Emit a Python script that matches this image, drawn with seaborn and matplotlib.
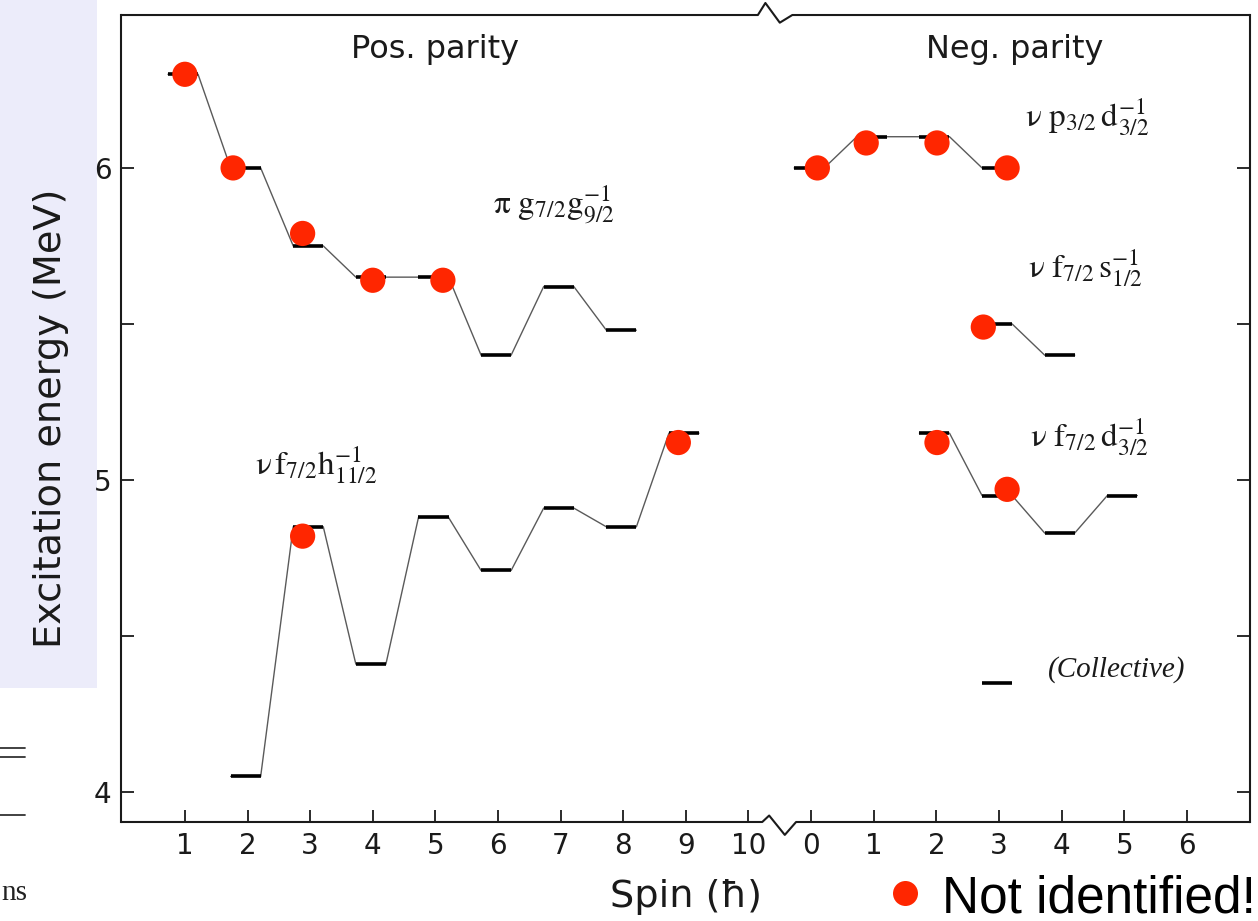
import matplotlib
matplotlib.use("Agg")
import matplotlib.pyplot as plt
import seaborn as sns
import pandas as pd
from matplotlib.patches import Rectangle
from matplotlib.lines import Line2D

# positive parity bands: spin (hbar) and excitation energy (MeV)
pg_spin = [1, 2, 3, 4, 5, 6, 7, 8]
pg_energy = [6.30, 6.00, 5.75, 5.65, 5.65, 5.40, 5.62, 5.48]

ph_spin = [2, 3, 4, 5, 6, 7, 8, 9]
ph_energy = [4.05, 4.85, 4.41, 4.88, 4.71, 4.91, 4.85, 5.15]

# negative parity bands
npd_spin = [0, 1, 2, 3]
npd_energy = [6.00, 6.10, 6.10, 6.00]

nfs_spin = [3, 4]
nfs_energy = [5.50, 5.40]

nfd_spin = [2, 3, 4, 5]
nfd_energy = [5.15, 4.95, 4.83, 4.95]

collective_spin = [3]
collective_energy = [4.35]

# red dots: "not identified" states
dot_parity = ["pos"] * 7 + ["neg"] * 7
dot_spin = [1.0, 1.77, 2.88, 4.0, 5.12, 2.88, 8.88,
            0.10, 0.88, 2.01, 3.13, 2.75, 2.01, 3.13]
dot_energy = [6.30, 6.00, 5.79, 5.64, 5.64, 4.82, 5.12,
              6.00, 6.08, 6.08, 6.00, 5.49, 5.12, 4.97]

pos_ticks = list(range(1, 11))
neg_ticks = list(range(0, 7))
y_major = [4, 5, 6]
y_minor = [4.5, 5.5]

NEG_OFFSET = 11          # negative parity axis starts one step after 10
BAR_L, BAR_R = 0.27, 0.21
RED = "#ff2600"
INK = "#1a1a1a"

sns.set_style("white")
plt.rcParams["font.family"] = ["DejaVu Sans"]
plt.rcParams["mathtext.fontset"] = "stix"


def draw_band(ax, spins, energies, offset=0, connect=True):
    x = [s + offset for s in spins]
    if connect:
        path = []
        for xi, e in zip(x, energies):
            path.append((xi - BAR_L, e))
            path.append((xi + BAR_R, e))
        df = pd.DataFrame(path, columns=["x", "E"])
        sns.lineplot(data=df, x="x", y="E", sort=False, estimator=None,
                     color="#5a5a5a", lw=1.0, ax=ax)
    ax.hlines(energies, [xi - BAR_L for xi in x], [xi + BAR_R for xi in x],
              color="black", lw=2.6, zorder=3)


fig = plt.figure(figsize=(12.58, 9.21), dpi=100)

# slide leftovers on the left edge
fig.patches.append(Rectangle((0, 1 - 688 / 921), 97 / 1258, 688 / 921,
                             transform=fig.transFigure, facecolor="#ececfa",
                             edgecolor="none", zorder=-5))
for yy in [748, 757, 815]:
    fig.lines.append(Line2D([0, 25 / 1258], [1 - yy / 921] * 2,
                            transform=fig.transFigure, color="#333333", lw=1.3))
fig.text(1 / 1258, 1 - 900 / 921, "ns", ha="left", va="baseline",
         family="Liberation Serif", fontsize=21, color="#222222")

ax = fig.add_axes([0.0962, 0.1075, 0.8975, 0.8762])
ax.set_facecolor("none")
ax.set_zorder(2)

draw_band(ax, pg_spin, pg_energy)
draw_band(ax, ph_spin, ph_energy)
draw_band(ax, npd_spin, npd_energy, NEG_OFFSET)
draw_band(ax, nfs_spin, nfs_energy, NEG_OFFSET)
draw_band(ax, nfd_spin, nfd_energy, NEG_OFFSET)
draw_band(ax, collective_spin, collective_energy, NEG_OFFSET, connect=False)

dots = pd.DataFrame({"parity": dot_parity, "spin": dot_spin, "E": dot_energy})
dots["x"] = dots["spin"] + (dots["parity"] == "neg") * NEG_OFFSET
sns.scatterplot(data=dots, x="x", y="E", color=RED, s=330, edgecolor="none",
                zorder=5, ax=ax, legend=False)

ax.set_xlim(-0.02, 18.01)
ax.set_ylim(3.904, 6.490)

xt = pos_ticks + [t + NEG_OFFSET for t in neg_ticks]
ax.set_xticks(xt)
ax.set_xticklabels([str(t) for t in pos_ticks] + [str(t) for t in neg_ticks])
ax.set_yticks(y_major)
ax.set_yticks(y_minor, minor=True)
ax.set_yticklabels([str(t) for t in y_major])

ax.tick_params(axis="x", direction="in", length=8.5, width=1.3, pad=7,
               labelsize=20, colors=INK, bottom=True, top=False)
ax.tick_params(axis="y", which="both", direction="in", length=9.5, width=1.3,
               pad=7, labelsize=20, colors=INK, left=True, right=True,
               labelright=False)

for side in ["left", "right"]:
    ax.spines[side].set_linewidth(1.5)
    ax.spines[side].set_color(INK)
for side in ["top", "bottom"]:
    ax.spines[side].set_visible(False)

# broken frame with zigzag between the two spin scales
tr = ax.get_xaxis_transform()
ax.plot([-0.02, 10.15, 10.27, 10.5, 10.7, 18.01], [1, 1, 1.0149, 0.9905, 1, 1],
        color=INK, lw=1.5, transform=tr, clip_on=False)
ax.plot([-0.02, 10.22, 10.33, 10.58, 10.76, 18.01], [0, 0, 0.008, -0.016, 0, 0],
        color=INK, lw=1.5, transform=tr, clip_on=False)

ax.set_xlabel("Spin (ħ)", fontsize=27.5, color=INK, labelpad=14)
ax.set_ylabel("Excitation energy (MeV)", fontsize=27.5, color=INK, labelpad=18)

ax.text(5.0, 6.378, "Pos. parity", ha="center", va="center", fontsize=23, color=INK)
ax.text(14.26, 6.378, "Neg. parity", ha="center", va="center", fontsize=23, color=INK)

band_fs = 24
ax.text(5.92, 5.849, r"$\mathrm{\pi}\ \mathrm{g}_{7/2}\mathrm{g}_{9/2}^{-1}$",
        ha="left", va="baseline", fontsize=band_fs, color=INK)
ax.text(2.12, 5.016, r"$\mathrm{\nu}\,\mathrm{f}_{7/2}\mathrm{h}_{11/2}^{-1}$",
        ha="left", va="baseline", fontsize=band_fs, color=INK)
ax.text(14.42, 6.131, r"$\mathrm{\nu}\ \mathrm{p}_{3/2}\,\mathrm{d}_{3/2}^{-1}$",
        ha="left", va="baseline", fontsize=band_fs, color=INK)
ax.text(14.47, 5.647, r"$\mathrm{\nu}\ \mathrm{f}_{7/2}\,\mathrm{s}_{1/2}^{-1}$",
        ha="left", va="baseline", fontsize=band_fs, color=INK)
ax.text(14.5, 5.106, r"$\mathrm{\nu}\ \mathrm{f}_{7/2}\,\mathrm{d}_{3/2}^{-1}$",
        ha="left", va="baseline", fontsize=band_fs, color=INK)
ax.text(14.79, 4.369, "(Collective)", ha="left", va="baseline",
        family="Liberation Serif", style="italic", fontsize=21, color=INK)

# "Not identified!" key at the bottom
fig.lines.append(Line2D([905 / 1258], [1 - 893 / 921], marker="o", markersize=18,
                        color=RED, markeredgecolor="none", linestyle="none",
                        transform=fig.transFigure))
fig.text(942 / 1258, 1 - 912 / 921, "Not identified!", ha="left", va="baseline",
         family="Liberation Sans", fontsize=37, color="black")

fig.savefig("out.png", dpi=100)
